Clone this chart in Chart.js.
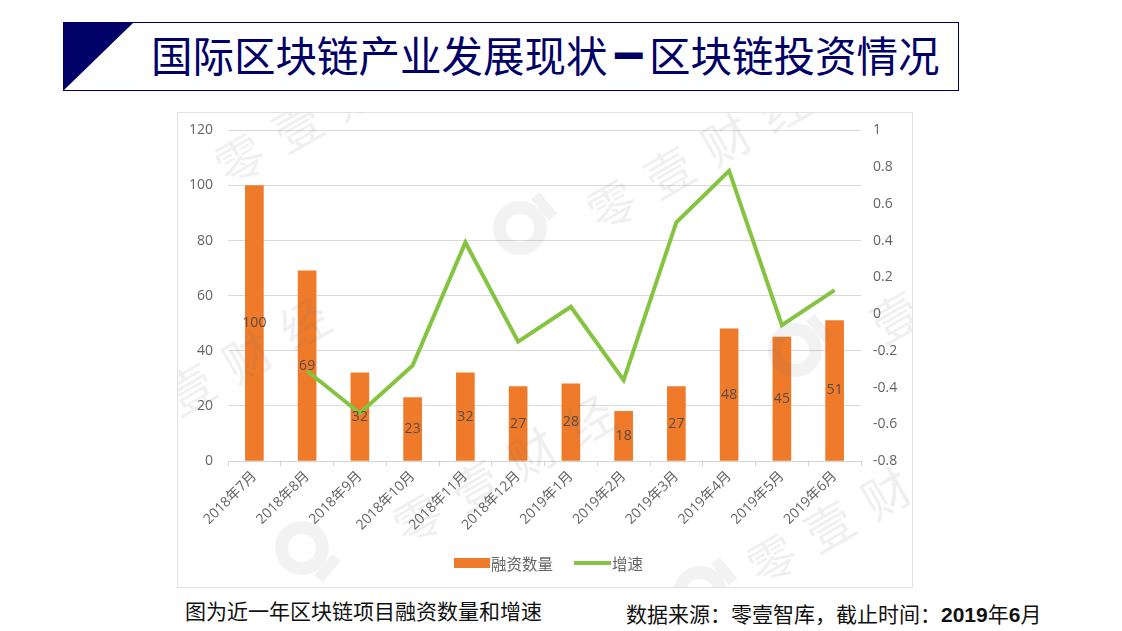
<!DOCTYPE html>
<html lang="zh">
<head>
<meta charset="utf-8">
<title>区块链投资情况</title>
<script src="https://cdn.jsdelivr.net/npm/chart.js@4/dist/chart.umd.min.js"></script>
<style>
  html, body { margin: 0; padding: 0; background: #fff; }
  body { position: relative; width: 1122px; height: 631px; overflow: hidden; font-family: "Noto Sans CJK SC", sans-serif; }
  #titulo { position: absolute; left: 63px; top: 22px; width: 894px; height: 67px; border: 1px solid #000066; }
  #triangulo { position: absolute; left: 0; top: 0; width: 69px; height: 67px; background: #000066; clip-path: polygon(0 0, 100% 0, 0 100%); }
  #titulo > span { position: absolute; left: 87px; top: 0; line-height: 63px; font-size: 41.5px; color: #000066; white-space: nowrap; }
  #raya { display: inline-block; font-weight: 900; transform: scaleX(.72); }
  #caja { position: absolute; left: 177px; top: 112px; width: 734px; height: 474px; border: 1px solid #e2e2e2; overflow: hidden; }
  #grafico { position: absolute; left: -1px; top: -6px; }
  .marca { position: absolute; color: rgba(110,110,110,.11); font-size: 48px; line-height: 1; white-space: nowrap; transform: rotate(-30deg); transform-origin: left center; letter-spacing: 18px; pointer-events: none; }
  .logo { position: absolute; box-sizing: border-box; width: 54px; height: 54px; border: 13px solid rgba(110,110,110,.09); border-radius: 50%; pointer-events: none; }
  .logo::after { content: ''; position: absolute; left: 41px; top: -1px; width: 11px; height: 28px; background: rgba(110,110,110,.09); }
  #leyenda { position: absolute; left: 454px; top: 555px; height: 16px; color: #666; font-size: 15.5px; line-height: 16px; }
  #leyenda i, #leyenda b { position: absolute; display: block; }
  #leyenda span { position: absolute; top: 0; white-space: nowrap; }
  .pie { position: absolute; white-space: nowrap; color: #111; }
  .pie b { font-family: "Liberation Sans", sans-serif; }
  .pie u { text-decoration: none; font-family: "Noto Sans CJK TC", sans-serif; }
</style>
</head>
<body>
<div id="titulo"><div id="triangulo"></div><span>国际区块链产业发展现状<span id="raya">一</span>区块链投资情况</span></div>

<div id="caja"><canvas id="grafico" width="736" height="480"></canvas>
  <div class="marca" style="left:40px;top:32px">零壹财经</div>
  <div class="marca" style="left:412px;top:78px">零壹财经</div>
  <div class="marca" style="left:-10px;top:262px">壹财经</div>
  <div class="marca" style="left:218px;top:392px">零壹财经</div>
  <div class="marca" style="left:572px;top:432px">零壹财经</div>
  <div class="marca" style="left:695px;top:190px">壹</div>
  <div class="logo" style="left:315px;top:88px;transform:rotate(-40deg)"></div>
  <div class="logo" style="left:97px;top:408px;transform:rotate(40deg)"></div>
  <div class="logo" style="left:590px;top:210px;transform:rotate(-40deg)"></div>
  <div class="logo" style="left:495px;top:453px;transform:rotate(-40deg)"></div>
</div>

<div id="leyenda"></div>

<div class="pie" style="left:185px;top:597px;font-size:21px;line-height:26px">图为近一年区块链项目融资数量和增速</div>
<div class="pie" style="left:626px;top:600px;font-size:21px;line-height:26px">数据来源<u>：</u>零壹智库，截止时间<u>：</u><b>2019</b>年<b>6</b>月</div>

<script>
const meses = ['2018年7月', '2018年8月', '2018年9月', '2018年10月', '2018年11月', '2018年12月',
               '2019年1月', '2019年2月', '2019年3月', '2019年4月', '2019年5月', '2019年6月'];
const financiacion = [100, 69, 32, 23, 32, 27, 28, 18, 27, 48, 45, 51];
const crecimiento = [null, -0.31, -0.54, -0.28, 0.39, -0.15, 0.04, -0.36, 0.5, 0.78, -0.06, 0.13];

const NARANJA = '#ef7b2a';
const VERDE = '#84c441';
const GRIS = '#636363';
const fuente = '"Open Sans", "Noto Sans CJK SC", sans-serif';

// etiquetas dentro de cada barra, como en el original
const etiquetasBarras = {
    id: 'etiquetasBarras',
    afterDatasetsDraw(c) {
        const ctx = c.ctx;
        ctx.save();
        ctx.font = '14px ' + fuente;
        ctx.fillStyle = '#5a4a40';
        ctx.textAlign = 'center';
        ctx.textBaseline = 'middle';
        c.getDatasetMeta(0).data.forEach((barra, i) => {
            const p = barra.getCenterPoint();
            ctx.fillText(financiacion[i], p.x, p.y);
        });
        ctx.restore();
    }
};

const chart = new Chart(document.getElementById('grafico').getContext('2d'), {
    data: {
        labels: meses,
        datasets: [
            { type: 'bar', label: '融资数量', data: financiacion, backgroundColor: NARANJA, barThickness: 18, yAxisID: 'y', order: 2 },
            { type: 'line', label: '增速', data: crecimiento, borderColor: VERDE, backgroundColor: VERDE, borderWidth: 4,
              pointRadius: 0, tension: 0, yAxisID: 'y1', order: 1 }
        ]
    },
    options: {
        responsive: false,
        animation: false,
        layout: { autoPadding: false, padding: { top: 23 } },
        plugins: { legend: { display: false }, tooltip: { enabled: false } },
        scales: {
            x: {
                grid: { drawOnChartArea: false, color: '#d4d4d4', tickLength: 5 },
                border: { color: '#d4d4d4' },
                ticks: { color: GRIS, font: { family: fuente, size: 14 }, minRotation: 45, maxRotation: 45, autoSkip: false, padding: 2 },
                afterFit(s) { s.height = 126; }
            },
            y: {
                position: 'left', min: 0, max: 120,
                grid: { color: '#d9d9d9', drawTicks: false },
                border: { display: false },
                ticks: { stepSize: 20, color: GRIS, padding: 15, font: { family: fuente, size: 14 } },
                afterFit(s) { s.width = 51; }
            },
            y1: {
                position: 'right', min: -0.8, max: 1,
                grid: { drawOnChartArea: false, drawTicks: false },
                border: { display: false },
                ticks: { stepSize: 0.2, color: GRIS, padding: 12, font: { family: fuente, size: 14 },
                         callback: v => String(Number(v.toFixed(1))) },
                afterFit(s) { s.width = 52; }
            }
        }
    },
    plugins: [etiquetasBarras]
});

// leyenda hecha a mano para respetar las muestras anchas del original
const leyenda = document.getElementById('leyenda');
leyenda.innerHTML =
    `<i style="left:0;top:3px;width:36px;height:10px;background:${NARANJA}"></i>` +
    `<span style="left:37px">${chart.data.datasets[0].label}</span>` +
    `<b style="left:120px;top:6px;width:37px;height:4px;background:${VERDE}"></b>` +
    `<span style="left:158px">${chart.data.datasets[1].label}</span>`;
</script>
</body>
</html>
